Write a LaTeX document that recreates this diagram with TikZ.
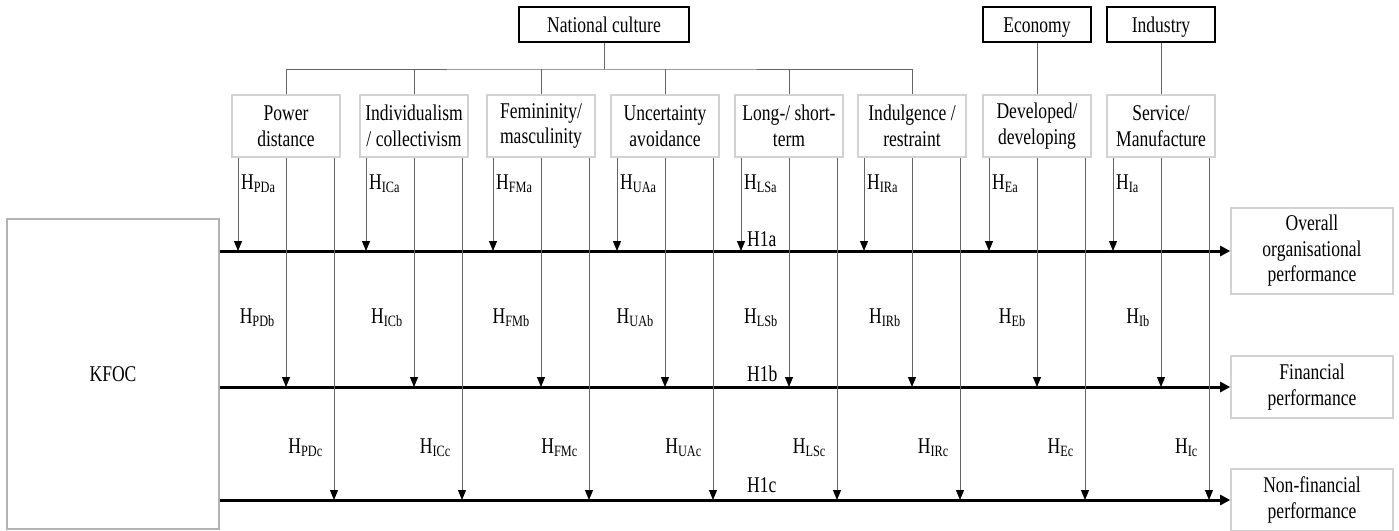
\documentclass[tikz,border=0pt]{standalone}
\usepackage{fontspec}
\setmainfont{Liberation Serif}[FakeStretch=0.78]
\usetikzlibrary{arrows.meta}

\tikzset{
  head/.style={draw=black,line width=1.6pt,minimum width=108pt,minimum height=35pt,text height=15pt,text depth=0pt},
  dim/.style={draw=gray!35,line width=1.6pt,minimum width=108pt,minimum height=62pt,align=center},
  res/.style={draw=gray!35,line width=1.6pt,minimum width=162pt,align=center},
  link/.style={draw=black!60,line width=1pt},
  hyp/.style={link,-{Triangle[length=10pt,width=8pt,black]}},
  main/.style={line width=3pt,-{Triangle[length=10pt,width=10pt]}},
  lab/.style={inner sep=0pt}
}

\begin{document}
\begin{tikzpicture}[x=1pt,y=-1pt,font=\fontsize{22.5}{25.5}\selectfont]
\useasboundingbox (0,0) rectangle (1399,530);
\node[head,minimum width=170pt] (nc) at (604,24.5) {National culture};
\node[head] (ec) at (1037,24.5) {Economy};
\node[head] (in) at (1161,24.5) {Industry};
\node[dim] (pd) at (286,126) {Power\\distance};
\node[dim] (ic) at (414,126) {Individualism\\/ collectivism};
\node[dim] (fm) at (541,126) {Femininity/\\masculinity};
\node[dim] (ua) at (665,126) {Uncertainty\\avoidance};
\node[dim] (ls) at (789,126) {Long-/ short-\\term};
\node[dim] (ir) at (912,126) {Indulgence /\\restraint};
\node[dim] (ed) at (1037,126) {Developed/\\developing};
\node[dim] (si) at (1161,126) {Service/\\Manufacture};
\node[draw=gray!60,line width=1.2pt,minimum width=212pt,minimum height=310pt] (kfoc) at (113,374) {KFOC};
\node[res,minimum height=86pt] (ov) at (1312,251) {Overall\\organisational\\performance};
\node[res,minimum height=62pt] (fi) at (1312,387) {Financial\\performance};
\node[res,minimum height=62pt] (nf) at (1312,500) {Non-financial\\performance};

\coordinate (bus) at (604,69);
\draw[link] (nc.south) -- (bus);
\draw[link] (pd.north) |- (bus) -| (ir.north);
\foreach \d in {ic,fm,ua,ls}
	\draw[link] (\d.north) -- (\d.north |- bus);
\draw[link] (ec.south) -- (ed.north);
\draw[link] (in.south) -- (si.north);

\draw[main] (kfoc.east |- ov.west) -- (ov.west);
\draw[main] (kfoc.east |- fi.west) -- (fi.west);
\draw[main] (kfoc.east |- nf.west) -- (nf.west);

\foreach \d/\s in {pd/PD,ic/IC,fm/FM,ua/UA,ls/LS,ir/IR,ed/E,si/I}{
	\coordinate (\d-a) at ([xshift=-48pt]\d.south);
	\coordinate (\d-c) at ([xshift=48pt]\d.south);
	\draw[hyp] (\d-a) -- (\d-a |- ov.west);
	\draw[hyp] (\d.south) -- (\d.south |- fi.west);
	\draw[hyp] (\d-c) -- (\d-c |- nf.west);
	\node[lab,anchor=base west,xshift=3pt] at (\d-a |- 0,189) {H\textsubscript{\s a}};
	\node[lab,anchor=base east,xshift=-11pt] at (\d.south |- 0,323) {H\textsubscript{\s b}};
	\node[lab,anchor=base east,xshift=-11pt] at (\d-c |- 0,453) {H\textsubscript{\s c}};
	}
\node[lab,anchor=base west,xshift=6pt] at (ls-a |- 0,246) {H1a};
\node[lab,anchor=base west,xshift=6pt] at (ls-a |- 0,381) {H1b};
\node[lab,anchor=base west,xshift=6pt] at (ls-a |- 0,492) {H1c};
\end{tikzpicture}
\end{document}
